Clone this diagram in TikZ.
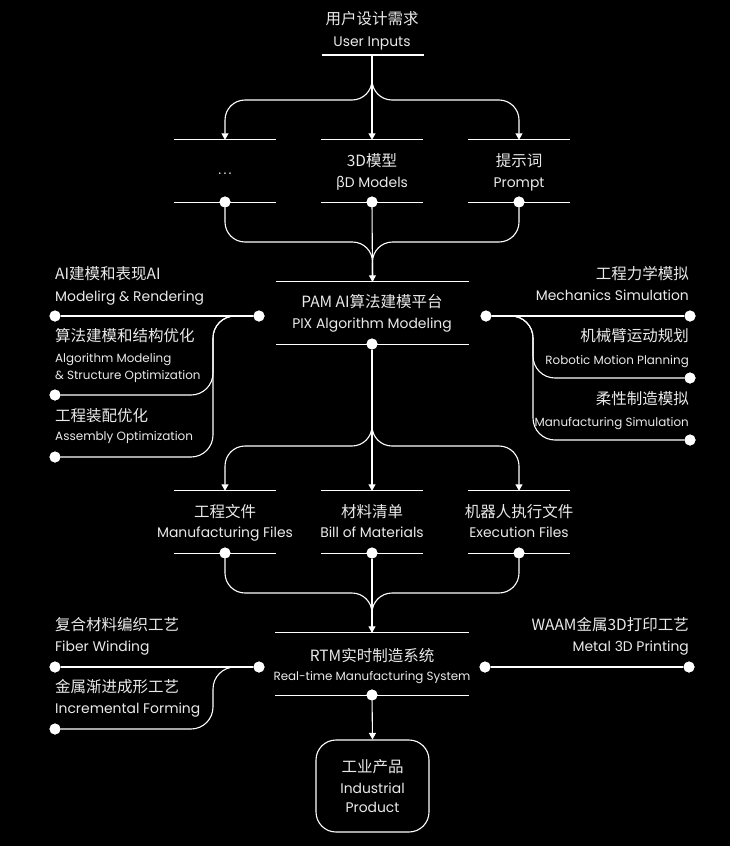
\documentclass[tikz,border=0pt]{standalone}
\usepackage{fontspec}
\setmainfont{Poppins}
\newfontfamily\cjk{Noto Sans CJK SC}
\usetikzlibrary{arrows.meta}
\definecolor{txt}{HTML}{EAEAEA}
\begin{document}
\begin{tikzpicture}[x=1pt,y=-1pt,
  line/.style={draw=white,line width=1.1pt},
  arr/.style={line,-{Triangle[length=6.5pt,width=7pt]}},
  bar/.style={draw=white,line width=1.1pt},
  blk/.style={rectangle,draw=none,inner sep=0,minimum width=102pt,minimum height=62pt},
  wblk/.style={rectangle,draw=none,inner sep=0,minimum width=193pt,minimum height=62pt},
  dot/.style={circle,fill=white,draw=none,inner sep=0,minimum size=11pt},
  zh/.style={text=txt,font=\cjk\fontsize{15.5}{18}\selectfont,inner sep=0,anchor=base},
  en/.style={text=txt,font=\fontsize{13.9}{16}\selectfont,inner sep=0,anchor=base},
  ens/.style={text=txt,font=\fontsize{12}{14}\selectfont,inner sep=0,anchor=base},
  enxs/.style={text=txt,font=\fontsize{11.9}{14}\selectfont,inner sep=0,anchor=base},
  rc/.style={rounded corners=20pt},
  rcs/.style={rounded corners=22pt}
]
\useasboundingbox (0,0) rectangle (730,846);
\fill[black] (0,0) rectangle (730,846);

% ---------- blocks (bars) ----------
\coordinate (uiL) at (322,55);
\coordinate (uiR) at (424,55);
\coordinate (uib) at (372,55);
\draw[bar] (uiL) -- (uiR);

\node[blk] (r2a) at (225,171) {};
\node[blk] (r2b) at (372,171) {};
\node[blk] (r2c) at (519,171) {};
\node[wblk] (pam) at (372.5,313) {};
\node[blk] (r3a) at (225,522) {};
\node[blk] (r3b) at (372,522) {};
\node[blk] (r3c) at (519,522) {};
\node[wblk] (rtm) at (372,664) {};
\foreach \b in {r2a,r2b,r2c,pam,r3a,r3b,r3c,rtm}{
  \draw[bar] (\b.north west) -- (\b.north east);
  \draw[bar] (\b.south west) -- (\b.south east);
}

% ---------- texts ----------
\node[zh] (t1a) at (372,24) {用户设计需求};
\node[en] (t1b) at (372,46) {User Inputs};

\node[en] (t2a) at (225,174) {.\kern2.2pt.\kern2.2pt.};
\node[zh] (t2b) at (372,166) {3D模型};
\node[en] (t2c) at (372,187) {{\cjk β}D Models};
\node[zh] (t2d) at (519,166) {提示词};
\node[en] (t2e) at (519,187) {Prompt};

\node[zh] (tpa) at (372,307) {PAM AI算法建模平台};
\node[en] (tpb) at (372,328) {PIX Algorithm Modeling};

\node[zh,anchor=base west] (tl1a) at (55,279) {AI建模和表现AI};
\node[en,anchor=base west] (tl1b) at (55,301) {Modelirg \& Rendering};
\node[zh,anchor=base west] (tl2a) at (55,341) {算法建模和结构优化};
\node[enxs,anchor=base west] (tl2b) at (55,362) {Algorithm Modeling};
\node[enxs,anchor=base west] (tl2c) at (55,379) {\& Structure Optimization};
\node[zh,anchor=base west] (tl3a) at (55,421) {工程装配优化};
\node[ens,anchor=base west] (tl3b) at (55,440) {Assembly Optimization};

\node[zh,anchor=base east] (tr1a) at (689,279) {工程力学模拟};
\node[en,anchor=base east] (tr1b) at (689,300) {Mechanics Simulation};
\node[zh,anchor=base east] (tr2a) at (689,341) {机械臂运动规划};
\node[enxs,anchor=base east] (tr2b) at (689,364) {Robotic Motion Planning};
\node[zh,anchor=base east] (tr3a) at (689,404) {柔性制造模拟};
\node[enxs,anchor=base east] (tr3b) at (689,426) {Manufacturing Simulation};

\node[zh] (t3a) at (225,517) {工程文件};
\node[en] (t3b) at (225,537) {Manufacturing Files};
\node[zh] (t3c) at (372,517) {材料清单};
\node[en] (t3d) at (372,537) {Bill of Materials};
\node[zh] (t3e) at (519,517) {机器人执行文件};
\node[en] (t3f) at (519,537) {Execution Files};

\node[zh,anchor=base west] (tl5a) at (55,630) {复合材料编织工艺};
\node[en,anchor=base west] (tl5b) at (55,651) {Fiber Winding};
\node[zh,anchor=base west] (tl6a) at (55,692) {金属渐进成形工艺};
\node[en,anchor=base west] (tl6b) at (55,713) {Incremental Forming};
\node[zh,anchor=base east] (tr5a) at (689,630) {WAAM金属3D打印工艺};
\node[en,anchor=base east] (tr5b) at (689,651) {Metal 3D Printing};

\node[zh] (tra) at (372,661) {RTM实时制造系统};
\node[enxs] (trb) at (372,680) {Real-time Manufacturing System};

% ---------- product box ----------
\node[draw=white,line width=1.1pt,rounded corners=20pt,minimum width=113pt,minimum height=92pt,inner sep=0] (prod) at (372.5,786) {};
\node[zh] (tpr1) at (372.5,772) {工业产品};
\node[en] (tpr2) at (372.5,793) {Industrial};
\node[en] (tpr3) at (372.5,812) {Product};

% ---------- dots ----------
\node[dot] (d2a) at (225,202) {};
\node[dot] (d2b) at (372,202) {};
\node[dot] (d2c) at (519,202) {};
\node[dot] (dpl) at (259,316) {};
\node[dot] (dpr) at (486,316) {};
\node[dot] (dpb) at (372,344) {};
\node[dot] (dl1) at (55,316) {};
\node[dot] (dl2) at (55,395) {};
\node[dot] (dl3) at (55,457) {};
\node[dot] (dr1) at (690,316) {};
\node[dot] (dr2) at (690,378) {};
\node[dot] (dr3) at (690,440) {};
\node[dot] (d3a) at (225,553) {};
\node[dot] (d3b) at (372,553) {};
\node[dot] (d3c) at (519,553) {};
\node[dot] (drl) at (259,667) {};
\node[dot] (drr) at (485,667) {};
\node[dot] (drb) at (372,695) {};
\node[dot] (dl5) at (55,667) {};
\node[dot] (dl6) at (55,729) {};
\node[dot] (dr5) at (689,667) {};

% ---------- connectors ----------
\coordinate (f1) at (372,80);
\draw[arr] (uib) -- (r2b.north);
\draw[arr,rc] (f1) -- ++(0,20) -| (r2a.north);
\draw[arr,rc] (f1) -- ++(0,20) -| (r2c.north);

\draw[arr] (d2b) -- (pam.north);
\draw[line,rc] (d2a) -- ++(0,40) -| (pam.north);
\draw[line,rc] (d2c) -- ++(0,40) -| (pam.north);

\draw[line] (dpl) -- (dl1);
\draw[line,rcs] (dpl) -- ++(-46,0) |- (dl2);
\draw[line,rcs] (dpl) -- ++(-46,0) |- (dl3);
\draw[line] (dpr) -- (dr1);
\draw[line,rcs] (dpr) -- ++(47,0) |- (dr2);
\draw[line,rcs] (dpr) -- ++(47,0) |- (dr3);

\coordinate (f2) at (372,426);
\draw[arr] (dpb) -- (r3b.north);
\draw[arr,rc] (f2) -- ++(0,20) -| (r3a.north);
\draw[arr,rc] (f2) -- ++(0,20) -| (r3c.north);

\draw[arr] (d3b) -- (rtm.north);
\draw[line,rc] (d3a) -- ++(0,40) -| (rtm.north);
\draw[line,rc] (d3c) -- ++(0,40) -| (rtm.north);

\draw[line] (drl) -- (dl5);
\draw[line,rcs] (drl) -- ++(-46,0) |- (dl6);
\draw[line] (drr) -- (dr5);
\draw[arr] (drb) -- (prod.north);

% dots on top of the connectors
\foreach \d in {d2a,d2b,d2c,dpl,dpr,dpb,dl1,dl2,dl3,dr1,dr2,dr3,d3a,d3b,d3c,drl,drr,drb,dl5,dl6,dr5}{
  \fill[white] (\d.center) circle (5.5pt);
}
\end{tikzpicture}
\end{document}
